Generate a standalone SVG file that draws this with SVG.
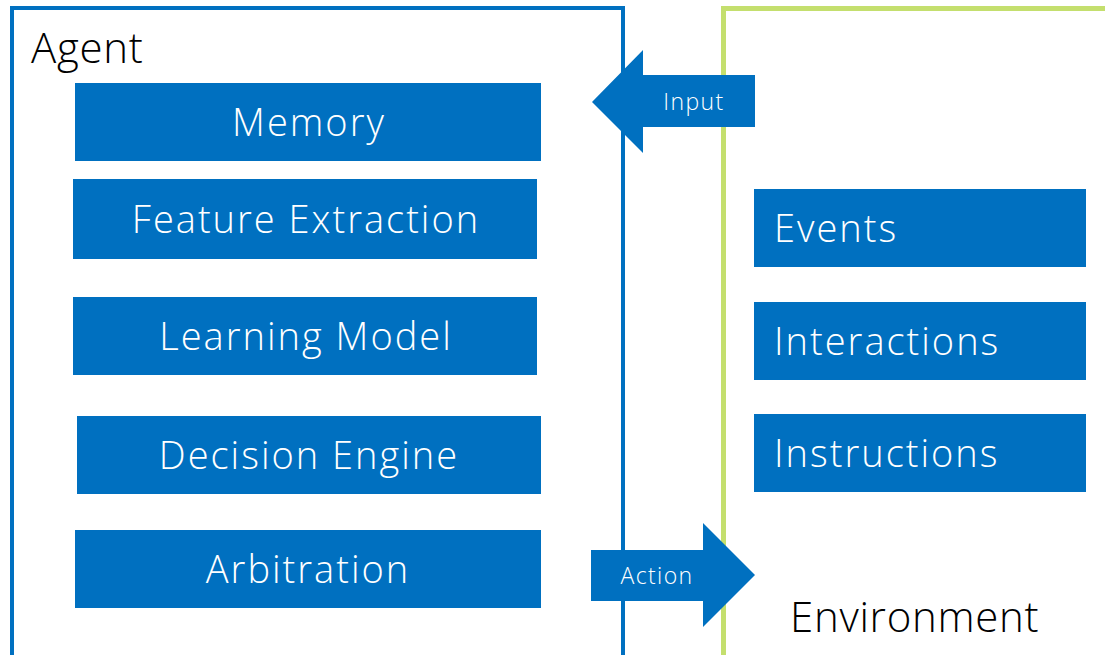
<svg xmlns="http://www.w3.org/2000/svg" width="1105" height="655" viewBox="0 0 1105 655">
<style>
.box{fill:#0070C0;}
.bt{fill:#ffffff;font-family:"Open Sans","DejaVu Sans",sans-serif;font-size:38px;font-weight:300;letter-spacing:2px;}
.lbl{fill:#000000;font-family:"Open Sans","DejaVu Sans",sans-serif;font-size:42px;font-weight:300;letter-spacing:0.7px;}
.at{fill:#ffffff;font-family:"Open Sans","DejaVu Sans",sans-serif;font-size:23px;font-weight:300;letter-spacing:1.4px;}
</style>
<rect width="1105" height="655" fill="#ffffff"/>
<g id="agent">
<rect x="12" y="8" width="611" height="660" fill="none" stroke="#0070C0" stroke-width="4"/>
<text class="lbl" x="31" y="63">Agent</text>
</g>
<g id="environment">
<rect x="723.5" y="8.5" width="400" height="660" fill="none" stroke="#C4DF6E" stroke-width="5"/>
<text class="lbl" x="790" y="632">Environment</text>
</g>
<g id="memory"><rect class="box" x="75" y="83" width="466" height="78"/><text class="bt" x="309" y="136" text-anchor="middle">Memory</text></g>
<g id="feature-extraction"><rect class="box" x="73" y="179" width="464" height="80"/><text class="bt" x="306" y="233" text-anchor="middle">Feature Extraction</text></g>
<g id="learning-model"><rect class="box" x="73" y="297" width="464" height="78"/><text class="bt" x="306" y="350" text-anchor="middle">Learning Model</text></g>
<g id="decision-engine"><rect class="box" x="77" y="416" width="464" height="78"/><text class="bt" x="309" y="469" text-anchor="middle">Decision Engine</text></g>
<g id="arbitration"><rect class="box" x="75" y="530" width="466" height="78"/><text class="bt" x="308" y="583" text-anchor="middle">Arbitration</text></g>
<g id="events"><rect class="box" x="754" y="189" width="332" height="78"/><text class="bt" x="774" y="242">Events</text></g>
<g id="interactions"><rect class="box" x="754" y="302" width="332" height="78"/><text class="bt" x="774" y="355">Interactions</text></g>
<g id="instructions"><rect class="box" x="754" y="414" width="332" height="78"/><text class="bt" x="774" y="467">Instructions</text></g>
<g id="connectors">
<g id="input-arrow"><polygon class="box" points="755,75 643,75 643,50 592,102 643,153 643,127 755,127"/><text class="at" x="694" y="110" text-anchor="middle">Input</text></g>
<g id="action-arrow"><polygon class="box" points="591,550 703,550 703,523 755,575 703,627 703,601 591,601"/><text class="at" x="657" y="584" text-anchor="middle">Action</text></g>
</g>
</svg>
